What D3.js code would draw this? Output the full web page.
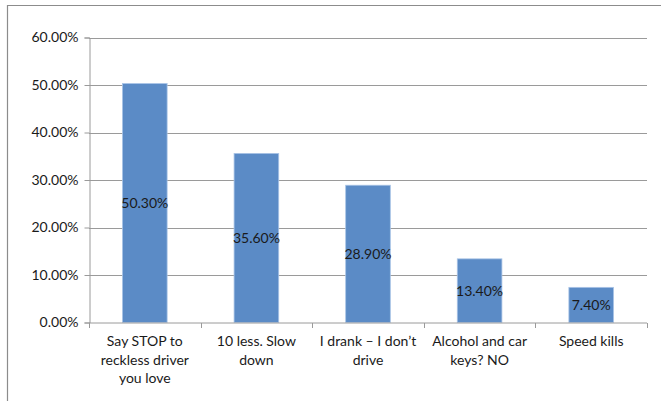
<!DOCTYPE html>
<html>
<head>
<meta charset="utf-8">
<script src="https://cdn.jsdelivr.net/npm/d3@7"></script>
<style>
  html, body { margin: 0; padding: 0; background: #fff; }
  svg { display: block; font-family: Lato, "Liberation Sans", sans-serif; }
</style>
</head>
<body>
<svg id="chart" width="661" height="401"></svg>
<script>
// Share of respondents choosing each campaign slogan
const categories = [
  ["Say STOP to", "reckless driver", "you love"],
  ["10 less. Slow", "down"],
  ["I drank \u2013 I don\u2019t", "drive"],
  ["Alcohol and car", "keys? NO"],
  ["Speed kills"]
];
const values = [50.3, 35.6, 28.9, 13.4, 7.4];
const yTicks = [0, 10, 20, 30, 40, 50, 60];

const svg = d3.select("#chart");
const margin = { left: 89, right: 14, top: 37.5, bottom: 78.5 };
const W = 661, H = 401;
const FS = 14;

// Outer frame: top and left edges
svg.append("line").attr("x1", 7).attr("x2", W).attr("y1", 5.5).attr("y2", 5.5)
  .attr("stroke", "#8c8c8c").attr("stroke-width", 1.2);
svg.append("line").attr("x1", 7.5).attr("x2", 7.5).attr("y1", 5).attr("y2", H)
  .attr("stroke", "#8c8c8c").attr("stroke-width", 1.2);

const keys = categories.map((c, i) => i);
const x = d3.scaleBand().domain(keys).range([margin.left, W - margin.right]).padding(0);
const y = d3.scaleLinear().domain([0, 60]).range([H - margin.bottom, margin.top]);

// Horizontal gridlines
svg.append("g").selectAll("line").data(yTicks.filter(t => t > 0)).join("line")
  .attr("x1", margin.left).attr("x2", W - margin.right)
  .attr("y1", d => Math.round(y(d)) + 0.5).attr("y2", d => Math.round(y(d)) + 0.5)
  .attr("stroke", "#9a9a9a").attr("stroke-width", 1);

// Y axis
const yAxis = svg.append("g").attr("transform", `translate(${margin.left + 0.5},0)`)
  .call(d3.axisLeft(y).tickValues(yTicks).tickSize(5).tickPadding(6)
    .tickFormat(d => d.toFixed(2) + "%"));
yAxis.select(".domain").attr("stroke", "#9a9a9a");
yAxis.selectAll(".tick line").attr("stroke", "#9a9a9a");
yAxis.selectAll(".tick text").attr("fill", "#1a1a1a").attr("font-size", FS)
  .attr("font-family", "Lato, sans-serif");

// Bars
const barFrac = 0.4;
const barW = x.bandwidth() * barFrac;
const bars = svg.append("g").selectAll("g").data(values).join("g");
bars.append("rect")
  .attr("x", (d, i) => x(i) + (x.bandwidth() - barW) / 2)
  .attr("width", barW)
  .attr("y", d => y(d))
  .attr("height", d => y(0) - y(d))
  .attr("fill", "#5b8bc6")
  .attr("stroke", "#a9c4e6").attr("stroke-width", 0.8);

// Value labels centred in each bar
bars.append("text")
  .attr("x", (d, i) => x(i) + x.bandwidth() / 2)
  .attr("y", d => (y(d) + y(0)) / 2)
  .attr("dy", "0.35em")
  .attr("text-anchor", "middle")
  .attr("font-size", FS)
  .attr("fill", "#1a1a1a")
  .text(d => d.toFixed(2) + "%");

// X axis
const xAxis = svg.append("g").attr("transform", `translate(0,${y(0) + 0.5})`);
xAxis.append("line").attr("x1", margin.left).attr("x2", W - margin.right)
  .attr("stroke", "#9a9a9a");
const edges = keys.map(k => x(k)).concat([W - margin.right]);
xAxis.selectAll(".tk").data(edges).join("line").attr("class", "tk")
  .attr("x1", d => Math.round(d) + 0.5).attr("x2", d => Math.round(d) + 0.5)
  .attr("y1", 0).attr("y2", 5).attr("stroke", "#9a9a9a");

const labels = xAxis.selectAll(".cat").data(categories).join("text").attr("class", "cat")
  .attr("text-anchor", "middle").attr("font-size", FS).attr("fill", "#1a1a1a");
labels.each(function (lines, i) {
  d3.select(this).selectAll("tspan").data(lines).join("tspan")
    .attr("x", x(i) + x.bandwidth() / 2)
    .attr("y", (d, j) => 23 + j * 18.6)
    .text(d => d);
});
</script>
</body>
</html>
